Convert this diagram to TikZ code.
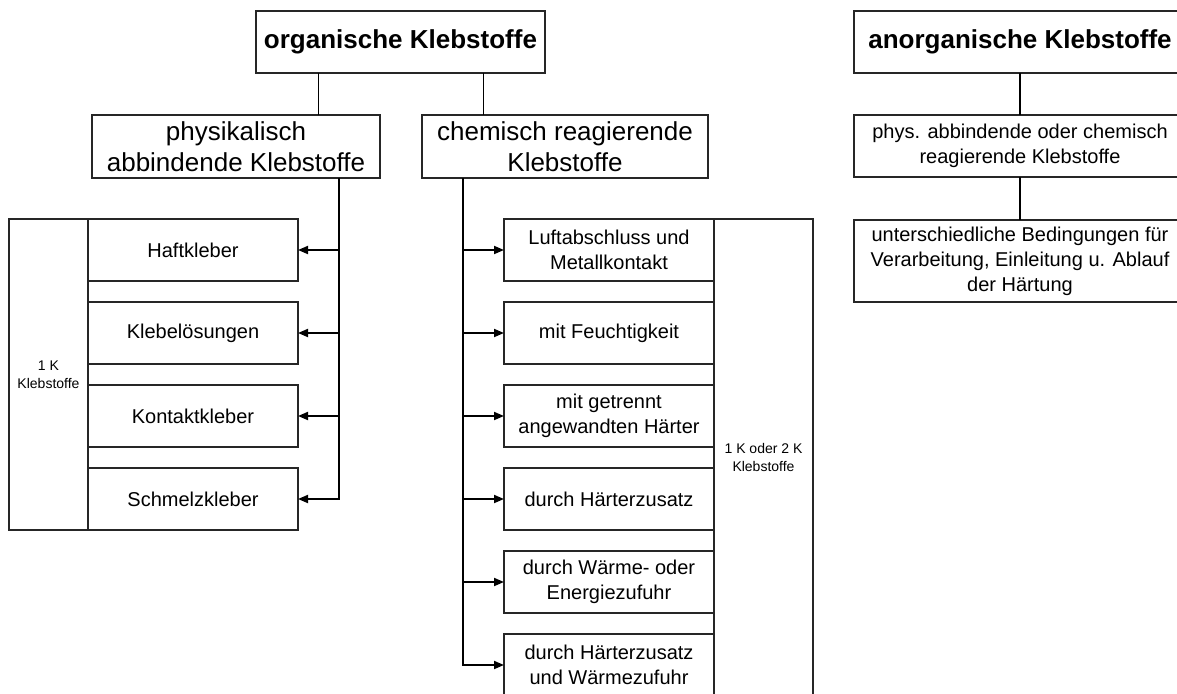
\documentclass[tikz,border=0pt]{standalone}
\usepackage{fontspec}
\setmainfont{Liberation Sans}
\usetikzlibrary{arrows.meta}

\begin{document}
\begin{tikzpicture}[x=1pt,y=-1pt,
  box/.style={draw=black!85, line width=1.2pt, anchor=north west,
    inner sep=0pt, outer sep=0pt, align=center},
  hbox/.style={box, font=\fontsize{26}{31}\selectfont\bfseries},
  mbox/.style={box, font=\fontsize{26}{31}\selectfont},
  sbox/.style={box, font=\fontsize{20}{25}\selectfont},
  tbox/.style={box, font=\fontsize{14}{18}\selectfont},
  link/.style={draw=black, line width=1.3pt},
  feed/.style={draw=black, line width=1.8pt, -{Triangle[length=10pt,width=8pt]}}]

\useasboundingbox (0,0) rectangle (1177,693);
\clip (0,0) rectangle (1177,693);

% organic adhesives: top and second level
\node[hbox, minimum width=289, minimum height=62] (org) at (256,11) {organische Klebstoffe};
\node[mbox, minimum width=288, minimum height=63] (phys) at (92,115) {physikalisch\\abbindende Klebstoffe};
\node[mbox, minimum width=286, minimum height=63] (chem) at (422,115) {chemisch reagierende\\Klebstoffe};

% physically setting group
\node[tbox, minimum width=79, minimum height=311] (einK) at (9,219) {1 K\\Klebstoffe};
\node[sbox, minimum width=210, minimum height=62] (haft) at (88,219) {Haftkleber};
\node[sbox, minimum width=210, minimum height=62] (kleb) at (88,302) {Klebelösungen};
\node[sbox, minimum width=210, minimum height=62] (kont) at (88,385) {Kontaktkleber};
\node[sbox, minimum width=210, minimum height=62] (schm) at (88,468) {Schmelzkleber};

% chemically reacting group
\node[tbox, minimum width=99, minimum height=477] (zweiK) at (714,219) {1 K oder 2 K\\Klebstoffe};
\node[sbox, minimum width=210, minimum height=62] (luft) at (504,219) {Luftabschluss und\\Metallkontakt};
\node[sbox, minimum width=210, minimum height=62] (feucht) at (504,302) {mit Feuchtigkeit};
\node[sbox, minimum width=210, minimum height=62] (getr) at (504,385) {mit getrennt\\angewandten Härter};
\node[sbox, minimum width=210, minimum height=62] (hzus) at (504,468) {durch Härterzusatz};
\node[sbox, minimum width=210, minimum height=62] (waerme) at (504,551) {durch Wärme- oder\\Energiezufuhr};
\node[sbox, minimum width=210, minimum height=62] (hw) at (504,634) {durch Härterzusatz\\und Wärmezufuhr};

% inorganic adhesives
\node[hbox, minimum width=332, minimum height=62] (anorg) at (854,11) {anorganische Klebstoffe};
\node[sbox, minimum width=332, minimum height=62] (physchem) at (854,115) {phys. abbindende oder chemisch\\reagierende Klebstoffe};
\node[sbox, minimum width=332, minimum height=82] (unter) at (854,220) {unterschiedliche Bedingungen für\\Verarbeitung, Einleitung u. Ablauf\\der Härtung};

% tree connectors
\draw[link] ([xshift=-82pt]org.south) -- ([xshift=-82pt]org.south |- phys.north);
\draw[link] ([xshift=83pt]org.south) -- ([xshift=83pt]org.south |- chem.north);
\draw[link] (anorg) -- (physchem);
\draw[link] (physchem) -- (unter);

% trunk of the physically setting group, arrows pointing left
\coordinate (lt) at ([xshift=103pt]phys.south);
\draw[feed] (lt) |- (schm.east);
\foreach \n in {haft,kleb,kont}
  \draw[feed] (lt |- \n.east) -- (\n.east);

% trunk of the chemically reacting group, arrows pointing right
\coordinate (mt) at ([xshift=-102pt]chem.south);
\draw[feed] (mt) |- (hw.west);
\foreach \n in {luft,feucht,getr,hzus,waerme}
  \draw[feed] (mt |- \n.west) -- (\n.west);

\end{tikzpicture}
\end{document}
